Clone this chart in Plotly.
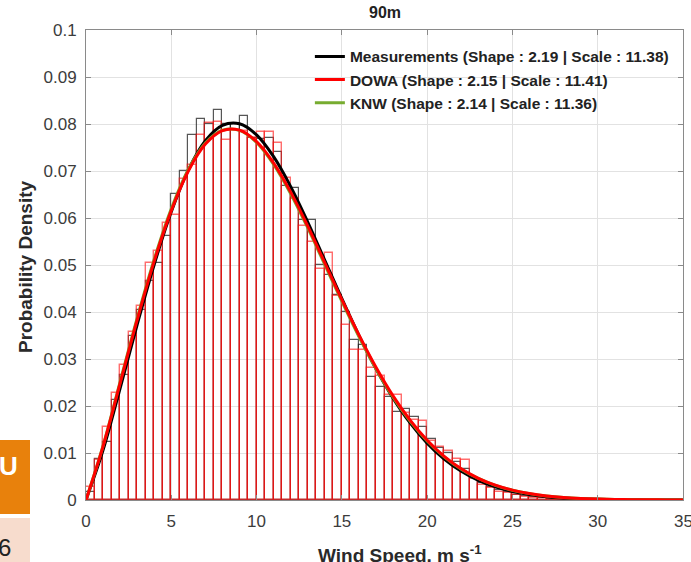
import plotly.graph_objects as go

# ---------------- data ----------------
bin_width = 0.5
bin_centers = [0.25 + 0.5 * i for i in range(70)]

dowa_hist = [
    0.0028, 0.0085, 0.0156, 0.0227, 0.0287, 0.0358, 0.0413, 0.0504, 0.0530, 0.0590,
    0.0606, 0.0684, 0.0712, 0.0777, 0.0803, 0.0805, 0.0766, 0.0787, 0.0785, 0.0770,
    0.0784, 0.0783, 0.0760, 0.0686, 0.0640, 0.0582, 0.0548, 0.0492, 0.0525, 0.0434,
    0.0373, 0.0320, 0.0319, 0.0280, 0.0264, 0.0224, 0.0224, 0.0185, 0.0170, 0.0168,
    0.0125, 0.0113, 0.0105, 0.0088, 0.0086, 0.0045, 0.0032, 0.0025, 0.0018, 0.0014,
    0.0010, 0.0007, 0.0005, 0.0004, 0.0003, 0.0002, 0.00015, 0.0001, 0.00008, 0.00006,
    0.00005, 0.00004, 0.00003, 0.00002, 0.00002, 0.00001, 0.00001, 0.00001, 0.0, 0.0,
]

meas_hist = [
    0.0017, 0.0087, 0.0124, 0.0213, 0.0266, 0.0349, 0.0404, 0.0467, 0.0504, 0.0561,
    0.0651, 0.0699, 0.0777, 0.0810, 0.0800, 0.0830, 0.0800, 0.0800, 0.0817, 0.0770,
    0.0768, 0.0770, 0.0740, 0.0668, 0.0663, 0.0596, 0.0595, 0.0501, 0.0479, 0.0436,
    0.0399, 0.0340, 0.0330, 0.0262, 0.0241, 0.0220, 0.0188, 0.0193, 0.0176, 0.0156,
    0.0130, 0.0110, 0.0099, 0.0080, 0.0065, 0.0046, 0.0036, 0.0028, 0.0021, 0.0016,
    0.0011, 0.0008, 0.0006, 0.0004, 0.0003, 0.0002, 0.00015, 0.0001, 0.00008, 0.00006,
    0.00005, 0.00004, 0.00003, 0.00002, 0.00002, 0.00001, 0.00001, 0.0, 0.0, 0.0,
]

curve_x = list(range(36))
meas_pdf = [0, 0.01060, 0.02377, 0.03731, 0.05012, 0.06131, 0.07024, 0.07644, 0.07970, 0.08004,
            0.07768, 0.07304, 0.06667, 0.05914, 0.05101, 0.04283, 0.03503, 0.02790, 0.02167, 0.01640,
            0.01210, 0.00870, 0.00610, 0.00417, 0.00278, 0.00181, 0.00115, 0.00071, 0.00043, 0.00025,
            0.00014, 0.00008, 0.00004, 0.00002, 0.00001, 0.00001]
dowa_pdf = [0, 0.01140, 0.02484, 0.03831, 0.05082, 0.06157, 0.07000, 0.07572, 0.07860, 0.07869,
            0.07625, 0.07168, 0.06551, 0.05827, 0.05047, 0.04263, 0.03513, 0.02824, 0.02215, 0.01698,
            0.01271, 0.00929, 0.00663, 0.00462, 0.00315, 0.00210, 0.00137, 0.00087, 0.00054, 0.00033,
            0.00019, 0.00011, 0.00006, 0.00004, 0.00002, 0.00001]
knw_pdf = [0, 0.01155, 0.02515, 0.03870, 0.05125, 0.06198, 0.07032, 0.07594, 0.07867, 0.07863,
           0.07607, 0.07140, 0.06516, 0.05788, 0.05007, 0.04225, 0.03478, 0.02794, 0.02189, 0.01677,
           0.01255, 0.00917, 0.00655, 0.00458, 0.00312, 0.00208, 0.00136, 0.00087, 0.00054, 0.00033,
           0.00020, 0.00011, 0.00007, 0.00004, 0.00002, 0.00001]

series_names = ["Measurements (Shape : 2.19 | Scale : 11.38)",
                "DOWA (Shape : 2.15 | Scale : 11.41)",
                "KNW (Shape : 2.14 | Scale : 11.36)"]

x_ticks = [0, 5, 10, 15, 20, 25, 30, 35]
x_tick_labels = ["0", "5", "10", "15", "20", "25", "30", "35"]
y_ticks = [0, 0.01, 0.02, 0.03, 0.04, 0.05, 0.06, 0.07, 0.08, 0.09, 0.1]
y_tick_labels = ["0", "0.01", "0.02", "0.03", "0.04", "0.05", "0.06", "0.07", "0.08", "0.09", "0.1"]

# ---------------- figure ----------------
FONT = "Liberation Sans, Arial, Helvetica, sans-serif"
fig = go.Figure()

fig.add_trace(go.Bar(x=bin_centers, y=meas_hist, width=bin_width, showlegend=False,
                     marker=dict(color="rgba(0,0,0,0)", line=dict(color="rgba(30,30,30,0.75)", width=1.2)),
                     hoverinfo="skip"))
fig.add_trace(go.Bar(x=bin_centers, y=dowa_hist, width=bin_width, showlegend=False,
                     marker=dict(color="rgba(255,255,255,0)", line=dict(color="rgba(255,20,20,0.62)", width=1.4)),
                     hoverinfo="skip"))

fig.add_trace(go.Scatter(x=curve_x, y=meas_pdf, mode="lines", name=series_names[0], legendrank=1,
                         line=dict(color="black", width=3, shape="spline")))
fig.add_trace(go.Scatter(x=curve_x, y=knw_pdf, mode="lines", name=series_names[2], legendrank=3,
                         line=dict(color="#77AC30", width=3, shape="spline")))
fig.add_trace(go.Scatter(x=curve_x, y=dowa_pdf, mode="lines", name=series_names[1], legendrank=2,
                         line=dict(color="#FF0000", width=3, shape="spline")))

axis_common = dict(showline=True, linecolor="#8a8a8a", linewidth=1, mirror="ticks",
                   ticks="inside", ticklen=5, tickcolor="#8a8a8a",
                   showgrid=True, gridcolor="#e2e2e2", gridwidth=1, zeroline=False,
                   tickfont=dict(family=FONT, size=17, color="#3c3c3c"))

fig.update_layout(
    width=691, height=562,
    margin=dict(l=86, r=8, t=30, b=62, autoexpand=False),
    paper_bgcolor="white", plot_bgcolor="white",
    barmode="overlay", bargap=0,
    font=dict(family=FONT, color="#262626"),
    title=dict(text="<b>90m</b>", x=385 / 691, xanchor="center", y=1 - 12 / 562, yanchor="middle",
               yref="container", font=dict(family=FONT, size=16, color="#222")),
    xaxis=dict(range=[0, 35], tickvals=x_ticks[:-1], ticktext=x_tick_labels[:-1],
               ticklabelstandoff=6, **axis_common),
    yaxis=dict(range=[0, 0.1], tickvals=y_ticks, ticktext=y_tick_labels, ticklabelstandoff=5, **axis_common),
    legend=dict(x=0.375, y=0.979, xanchor="left", yanchor="top", bgcolor="rgba(0,0,0,0)",
                font=dict(family=FONT, size=15.5, color="#222", weight="bold"),
                itemwidth=30, tracegroupgap=0),
    showlegend=True,
)

# last x tick label (cut by the right edge in the original)
fig.add_annotation(text=x_tick_labels[-1], x=x_ticks[-1], xref="x", y=(500 - 521) / 470, yref="paper",
                   xanchor="center", yanchor="middle", showarrow=False,
                   font=dict(family=FONT, size=17, color="#3c3c3c"))

# axis titles
fig.add_annotation(text="<b>Wind Speed, m s<sup>-1</sup></b>", x=(400 - 86) / 597, y=(500 - 554) / 470,
                   xref="paper", yref="paper", xanchor="center", yanchor="middle", showarrow=False,
                   font=dict(family=FONT, size=19, color="#2a2a2a"))
fig.add_annotation(text="<b>Probability Density</b>", x=(25 - 86) / 597, y=(500 - 267) / 470,
                   xref="paper", yref="paper", xanchor="center", yanchor="middle", showarrow=False,
                   textangle=-90, font=dict(family=FONT, size=19, color="#2a2a2a"))

# slide fragments at the bottom left edge
fig.add_shape(type="rect", xref="paper", yref="paper",
              x0=(0 - 86) / 597, x1=(30 - 86) / 597, y0=(500 - 514) / 470, y1=(500 - 440) / 470,
              fillcolor="#E8810C", line=dict(width=0), layer="above")
fig.add_shape(type="rect", xref="paper", yref="paper",
              x0=(0 - 86) / 597, x1=(30 - 86) / 597, y0=(500 - 562) / 470, y1=(500 - 518) / 470,
              fillcolor="#F7DCCD", line=dict(width=0), layer="above")
fig.add_annotation(text="<b>U</b>", x=(8 - 86) / 597, y=(500 - 466) / 470, xref="paper", yref="paper",
                   xanchor="center", yanchor="middle", showarrow=False,
                   font=dict(family=FONT, size=26, color="white"))
fig.add_annotation(text="6", x=(4 - 86) / 597, y=(500 - 547) / 470, xref="paper", yref="paper",
                   xanchor="center", yanchor="middle", showarrow=False,
                   font=dict(family=FONT, size=24, color="#222"))

fig.write_html("out.html", config={"displayModeBar": False},
               post_script="document.body.style.margin='0px';document.body.style.padding='0px';")
